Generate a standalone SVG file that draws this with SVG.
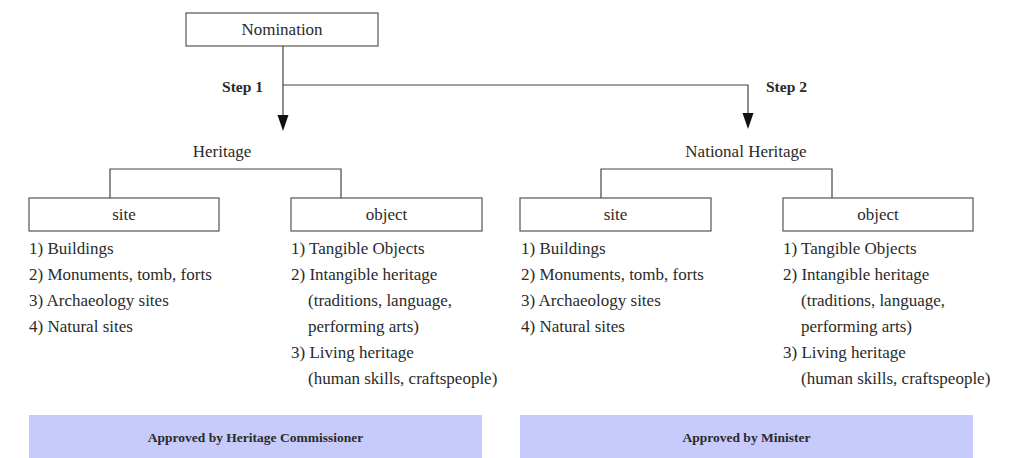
<svg xmlns="http://www.w3.org/2000/svg" width="1010" height="458" viewBox="0 0 1010 458">
<style>
text{font-family:'Liberation Serif','DejaVu Serif',serif;fill:#2a2a2a}
.t{font-size:17px}
.c{text-anchor:middle}
.b{font-weight:bold;font-size:15.5px}
.ab{font-weight:bold;font-size:13.5px;text-anchor:middle}
.box{fill:#fff;stroke:#555;stroke-width:1.2}
.ln{fill:none;stroke:#444;stroke-width:1.2}
.ap{fill:#c7cbfb}
.ah{fill:#111}
</style>
<rect width="1010" height="458" fill="#fff"/>
<g id="connectors">
<path class="ln" d="M283,46 V116"/>
<polygon class="ah" points="277.5,115 288.5,115 283,131"/>
<path class="ln" d="M283,85 H748 V114"/>
<polygon class="ah" points="742.5,113 753.5,113 748,129"/>
<path class="ln" d="M110,198 V169 H341 V198"/>
<path class="ln" d="M601,198 V169 H832 V198"/>
<text class="b" x="263" y="92" text-anchor="end">Step 1</text>
<text class="b" x="766" y="92">Step 2</text>
</g>
<g id="nomination">
<rect class="box" x="186" y="13" width="192" height="33"/>
<text class="t c" x="282" y="35">Nomination</text>
</g>
<g id="heritage">
<text class="t c" x="222" y="157">Heritage</text>
</g>
<g id="national-heritage">
<text class="t c" x="746" y="157">National Heritage</text>
</g>
<g id="site-left">
<rect class="box" x="29" y="198" width="190" height="33"/>
<text class="t c" x="124" y="220">site</text>
<text class="t" x="29" y="254">1) Buildings</text>
<text class="t" x="29" y="280">2) Monuments, tomb, forts</text>
<text class="t" x="29" y="306">3) Archaeology sites</text>
<text class="t" x="29" y="332">4) Natural sites</text>
</g>
<g id="object-left">
<rect class="box" x="291" y="198" width="191" height="33"/>
<text class="t c" x="386.5" y="220">object</text>
<text class="t" x="291" y="254">1) Tangible Objects</text>
<text class="t" x="291" y="280">2) Intangible heritage</text>
<text class="t" x="308" y="306">(traditions, language,</text>
<text class="t" x="308" y="332">performing arts)</text>
<text class="t" x="291" y="358">3) Living heritage</text>
<text class="t" x="308" y="384">(human skills, craftspeople)</text>
</g>
<g id="site-right">
<rect class="box" x="520" y="198" width="191" height="33"/>
<text class="t c" x="615.5" y="220">site</text>
<text class="t" x="521" y="254">1) Buildings</text>
<text class="t" x="521" y="280">2) Monuments, tomb, forts</text>
<text class="t" x="521" y="306">3) Archaeology sites</text>
<text class="t" x="521" y="332">4) Natural sites</text>
</g>
<g id="object-right">
<rect class="box" x="783" y="198" width="190" height="33"/>
<text class="t c" x="878" y="220">object</text>
<text class="t" x="783" y="254">1) Tangible Objects</text>
<text class="t" x="783" y="280">2) Intangible heritage</text>
<text class="t" x="801" y="306">(traditions, language,</text>
<text class="t" x="801" y="332">performing arts)</text>
<text class="t" x="783" y="358">3) Living heritage</text>
<text class="t" x="801" y="384">(human skills, craftspeople)</text>
</g>
<g id="approved-commissioner">
<rect class="ap" x="29" y="415" width="453" height="43"/>
<text class="ab" x="255.5" y="442">Approved by Heritage Commissioner</text>
</g>
<g id="approved-minister">
<rect class="ap" x="520" y="415" width="453" height="43"/>
<text class="ab" x="746.5" y="442">Approved by Minister</text>
</g>
</svg>
